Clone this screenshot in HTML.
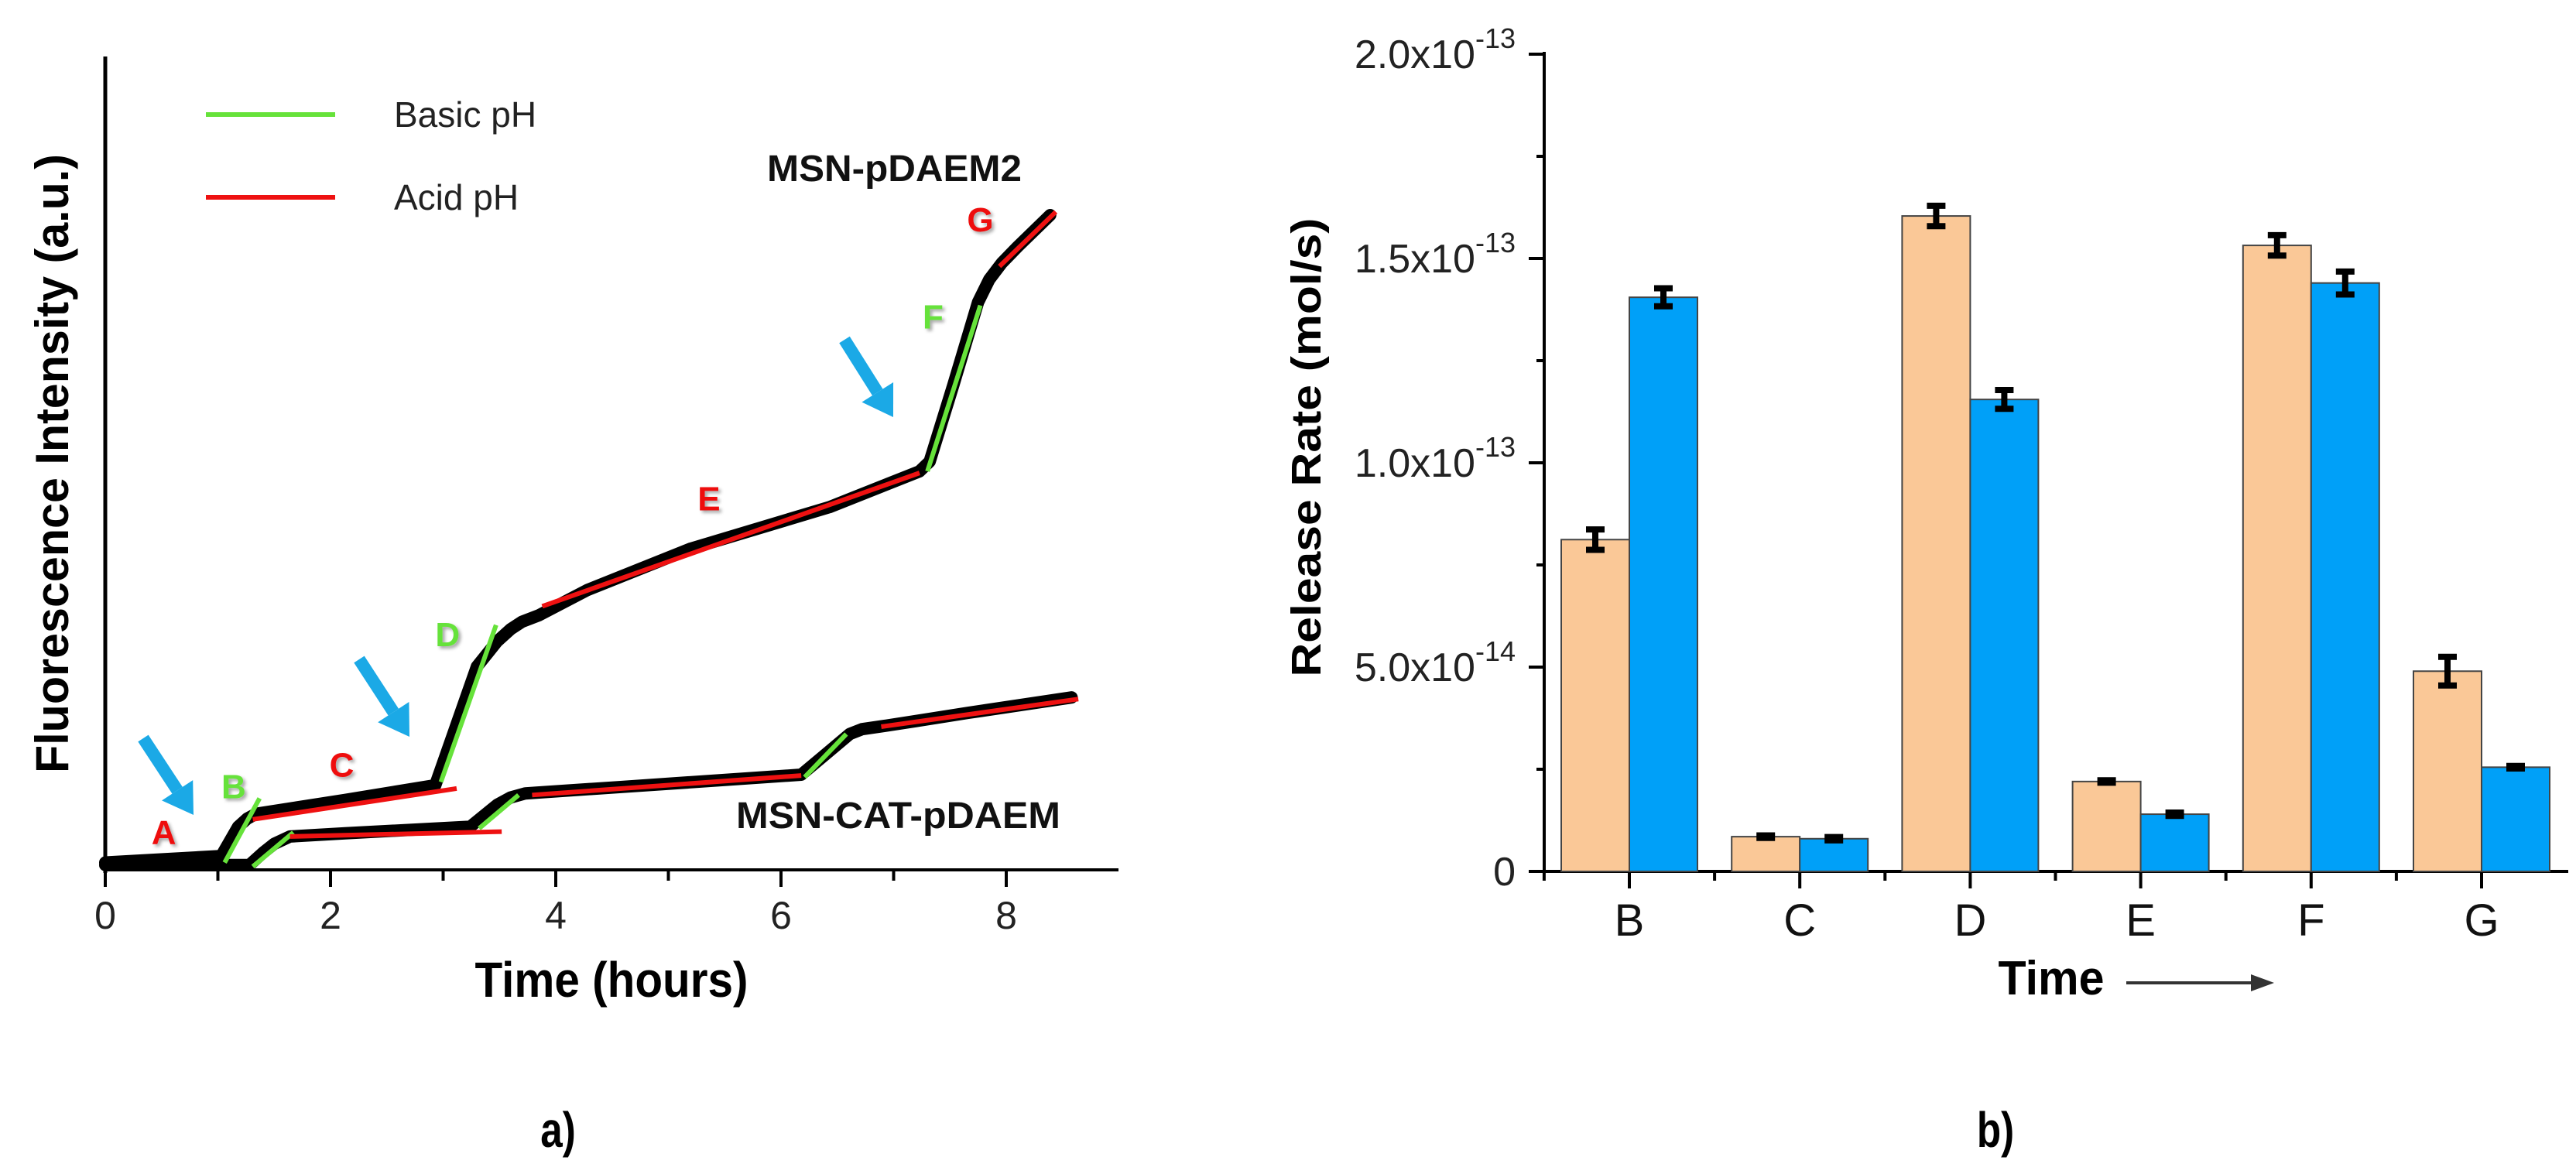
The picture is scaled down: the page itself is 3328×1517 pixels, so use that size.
<!DOCTYPE html>
<html><head><meta charset="utf-8"><style>
html,body{margin:0;padding:0;background:#fff}
svg{display:block}
text{font-family:"Liberation Sans",sans-serif}
</style></head><body>
<svg id="fig" width="3328" height="1517" viewBox="0 0 3328 1517" xmlns="http://www.w3.org/2000/svg">
<defs>
<filter id="sh" x="-20%" y="-20%" width="150%" height="150%"><feDropShadow dx="3" dy="3" stdDeviation="2" flood-color="#000" flood-opacity="0.35"/></filter>
</defs>
<g id="panelA"></g>
<g id="panelB"></g>
<text x="721" y="1482" font-size="64" font-weight="bold" text-anchor="middle" transform="translate(721 0) scale(0.8 1) translate(-721 0)">a)</text>
<text x="2578" y="1482" font-size="64" font-weight="bold" text-anchor="middle" transform="translate(2578 0) scale(0.8 1) translate(-2578 0)">b)</text>
</svg>
<script>
// ---------- Panel A data ----------
const hoursUpper = [0, 1.03, 1.18, 1.26, 1.34, 2.13, 2.93, 3.12, 3.3, 3.48, 3.6, 3.7, 3.85, 4.28, 5.2, 6.43, 7.23, 7.32, 7.53, 7.75, 7.85, 7.96, 8.1, 8.39];
const intensityUpper = [0.9, 1.7, 5.3, 6.3, 6.9, 8.6, 10.4, 17.9, 25, 28.1, 29.6, 30.5, 31.3, 34.4, 39.5, 44.6, 49, 50.2, 59.6, 69.8, 72.6, 74.6, 76.6, 80.5];
const hoursLower = [0, 1.28, 1.4, 1.5, 1.64, 2.13, 3.24, 3.48, 3.6, 3.73, 4.59, 6.18, 6.37, 6.61, 6.72, 6.92, 7.2, 7.66, 8.58];
const intensityLower = [0.6, 0.6, 2.1, 3.2, 4.1, 4.5, 5.3, 8, 8.9, 9.4, 10.2, 11.7, 13.9, 16.7, 17.3, 17.7, 18.3, 19.3, 21.2];
const fitStartH = [1.06, 1.31, 2.98, 3.88, 7.3, 7.94, 1.31, 1.64, 3.32, 3.79, 6.21, 6.89];
const fitStartI = [0.9, 6.2, 10.8, 32.4, 49, 74.2, 0.4, 4.1, 5.1, 9.2, 11.4, 17.6];
const fitEndH = [1.37, 3.12, 3.47, 7.23, 7.77, 8.44, 1.67, 3.52, 3.67, 6.18, 6.58, 8.64];
const fitEndI = [8.8, 10, 30.1, 48.8, 69.4, 80.9, 4.6, 4.7, 9.2, 11.6, 16.7, 21];
const fitKind = ['basic','acid','basic','acid','basic','acid','basic','acid','basic','acid','basic','acid'];
const xTicksA = [0, 2, 4, 6, 8];
const segLetters = ['A','B','C','D','E','F','G'];
const segLetterH = [0.52, 1.14, 2.1, 3.04, 5.36, 7.35, 7.77];
const segLetterI = [4.7, 10.3, 13, 29, 45.7, 68.1, 80];
const segLetterKind = ['acid','basic','acid','basic','acid','basic','acid'];

// ---------- Panel B data ----------
const categories = ['B','C','D','E','F','G'];
const seriesOrange = [0.812, 0.085, 1.604, 0.22, 1.532, 0.49];
const seriesBlue = [1.405, 0.08, 1.155, 0.14, 1.44, 0.255];
const errOrange = [0.025, 0.003, 0.025, 0.003, 0.025, 0.035];
const errBlue = [0.022, 0.004, 0.023, 0.004, 0.028, 0.003];
const yTicksB = [0, 0.5, 1.0, 1.5, 2.0];
const yTickMain = ['0', '5.0x10', '1.0x10', '1.5x10', '2.0x10'];
const yTickExp = ['', '-14', '-13', '-13', '-13'];

const NS = 'http://www.w3.org/2000/svg';
function mk(tag, attrs, parent, txt){
  const e = document.createElementNS(NS, tag);
  for (const k in attrs) e.setAttribute(k, attrs[k]);
  if (txt !== undefined) e.textContent = txt;
  parent.appendChild(e);
  return e;
}
const GREEN = '#66E23A', RED = '#EE1111', BLUE = '#1BA9E6';

// ===== Panel A =====
const A = document.getElementById('panelA');
const ax0 = 136, ay0 = 1124, pxPerH = 145.5, pxPerI = 10.51;
const xA = h => ax0 + h * pxPerH;
const yA = i => ay0 - i * pxPerI;

const yAxisA = mk('line', {x1: ax0, y1: 73, x2: ax0, y2: ay0 + 4, stroke: '#000', 'stroke-width': 5}, A);


const xAxisA = mk('line', {x1: ax0 - 2, y1: ay0, x2: 1445, y2: ay0, stroke: '#000', 'stroke-width': 4}, A);


for (let h = 0; h <= 8.9; h += 1) {
  const major = (h % 2 === 0);
  const t = mk('line', {x1: xA(h), y1: ay0, x2: xA(h), y2: ay0 + (major ? 22 : 14), stroke: '#000', 'stroke-width': 4}, A);
  
  
}
xTicksA.forEach(v => {
  const t = mk('text', {x: xA(v), y: 1200, 'font-size': 50, 'text-anchor': 'middle', fill: '#222'}, A, String(v));
  
  
});
const xt = mk('text', {x: 790, y: 1288, 'font-size': 64, 'font-weight': 'bold', 'text-anchor': 'middle', textLength: 353, lengthAdjust: 'spacingAndGlyphs'}, A, 'Time (hours)');


const yt = mk('text', {x: 0, y: 0, 'font-size': 60, 'font-weight': 'bold', 'text-anchor': 'middle', textLength: 800, lengthAdjust: 'spacingAndGlyphs', transform: 'translate(88 599) rotate(-90)'}, A, 'Fluorescence Intensity (a.u.)');



function curve(hs, is, name){
  const pts = hs.map((h, k) => xA(h) + ',' + yA(is[k])).join(' ');
  const p = mk('polyline', {points: pts, fill: 'none', stroke: '#000', 'stroke-width': 16, 'stroke-linejoin': 'round', 'stroke-linecap': 'round'}, A);
  
  
}
curve(hoursUpper, intensityUpper, 'curve-msn-pdaem2');
curve(hoursLower, intensityLower, 'curve-msn-cat-pdaem');
fitStartH.forEach((h, k) => {
  const l = mk('line', {x1: xA(h), y1: yA(fitStartI[k]), x2: xA(fitEndH[k]), y2: yA(fitEndI[k]), stroke: fitKind[k] === 'basic' ? GREEN : RED, 'stroke-width': 6}, A);
  
  
});
segLetters.forEach((s, k) => {
  const t = mk('text', {x: xA(segLetterH[k]), y: yA(segLetterI[k]) + 16, 'font-size': 44, 'font-weight': 'bold', 'text-anchor': 'middle', fill: segLetterKind[k] === 'basic' ? GREEN : RED, filter: 'url(#sh)'}, A, s);
  
  
});
// arrows
[[185, 954, 250, 1053], [464, 852, 529, 952], [1091, 439, 1154, 539]].forEach((a, k) => {
  const [x1, y1, x2, y2] = a;
  const dx = x2 - x1, dy = y2 - y1, L = Math.hypot(dx, dy), ux = dx / L, uy = dy / L;
  const bx = x2 - ux * 38, by = y2 - uy * 38;
  const g = mk('g', {}, A);
  
  
  mk('line', {x1: x1, y1: y1, x2: bx, y2: by, stroke: BLUE, 'stroke-width': 16}, g);
  mk('polygon', {points: `${x2},${y2} ${bx - uy * 24},${by + ux * 24} ${bx + uy * 24},${by - ux * 24}`, fill: BLUE}, g);
});
// legend
const lg = mk('g', {}, A);


const lgb = mk('line', {x1: 266, y1: 148, x2: 433, y2: 148, stroke: GREEN, 'stroke-width': 6}, lg);


const lgbt = mk('text', {x: 509, y: 164, 'font-size': 46, fill: '#222'}, lg, 'Basic pH');


const lga = mk('line', {x1: 266, y1: 255, x2: 433, y2: 255, stroke: RED, 'stroke-width': 6}, lg);


const lgat = mk('text', {x: 509, y: 271, 'font-size': 46, fill: '#222'}, lg, 'Acid pH');


const s1 = mk('text', {x: 991, y: 234, 'font-size': 48, 'font-weight': 'bold', textLength: 329, lengthAdjust: 'spacingAndGlyphs', fill: '#111'}, A, 'MSN-pDAEM2');


const s2 = mk('text', {x: 951, y: 1070, 'font-size': 48, 'font-weight': 'bold', textLength: 419, lengthAdjust: 'spacingAndGlyphs', fill: '#111'}, A, 'MSN-CAT-pDAEM');



// ===== Panel B =====
const B = document.getElementById('panelB');
const bx0 = 1995, by0 = 1126, pxPerUnit = 528, catStep = 220.2, firstCat = 2105, barW = 88;
const yB = v => by0 - v * pxPerUnit;
const xCat = k => firstCat + k * catStep;

const yAxB = mk('line', {x1: bx0, y1: 67, x2: bx0, y2: by0 + 2, stroke: '#000', 'stroke-width': 4}, B);


const xAxB = mk('line', {x1: bx0 - 12, y1: by0, x2: 3318, y2: by0, stroke: '#000', 'stroke-width': 4}, B);


for (let v = 0; v <= 2.001; v += 0.25) {
  const major = Math.abs(v * 2 - Math.round(v * 2)) < 1e-6;
  const t = mk('line', {x1: bx0 - (major ? 20 : 10), y1: yB(v), x2: bx0, y2: yB(v), stroke: '#000', 'stroke-width': 4}, B);
  
  
}
yTicksB.forEach((v, k) => {
  const t = mk('text', {x: 1958, y: yB(v) + 18, 'font-size': 52, 'text-anchor': 'end', fill: '#222'}, B);
  
  
  if (yTickExp[k]) {
    mk('tspan', {}, t, yTickMain[k]);
    mk('tspan', {'font-size': 36, dy: -26}, t, yTickExp[k]);
  } else {
    t.textContent = yTickMain[k];
  }
});
const ytB = mk('text', {x: 0, y: 0, 'font-size': 54, 'font-weight': 'bold', 'text-anchor': 'middle', textLength: 593, lengthAdjust: 'spacingAndGlyphs', transform: 'translate(1706 578) rotate(-90)'}, B, 'Release Rate (mol/s)');


categories.forEach((c, k) => {
  const cx = xCat(k);
  const t1 = mk('line', {x1: cx, y1: by0, x2: cx, y2: by0 + 22, stroke: '#000', 'stroke-width': 4}, B);
  
  
  const t2 = mk('line', {x1: cx - catStep / 2, y1: by0, x2: cx - catStep / 2, y2: by0 + 12, stroke: '#000', 'stroke-width': 4}, B);
  
  
  const lab = mk('text', {x: cx, y: 1209, 'font-size': 58, 'text-anchor': 'middle', fill: '#111'}, B, c);
  
  
  [[seriesOrange, errOrange, '#FAC897', cx - barW, 'orange'], [seriesBlue, errBlue, '#00A0F8', cx, 'blue']].forEach(sp => {
    const [vals, errs, col, x, nm] = sp;
    const v = vals[k], e = errs[k];
    const r = mk('rect', {x: x, y: yB(v), width: barW, height: by0 - yB(v), fill: col, stroke: '#444', 'stroke-width': 2}, B);
    
    
    const m = x + barW / 2;
    const eb = mk('path', {d: `M${m},${yB(v + e)} V${yB(v - e)} M${m - 12},${yB(v + e)} H${m + 12} M${m - 12},${yB(v - e)} H${m + 12}`, stroke: '#000', 'stroke-width': 8, fill: 'none'}, B);
    
    
  });
});
const xtB = mk('text', {x: 2650, y: 1285, 'font-size': 62, 'font-weight': 'bold', 'text-anchor': 'middle', textLength: 137, lengthAdjust: 'spacingAndGlyphs'}, B, 'Time');


const ta = mk('g', {}, B);


mk('line', {x1: 2747, y1: 1270, x2: 2915, y2: 1270, stroke: '#333', 'stroke-width': 4}, ta);
mk('polygon', {points: '2938,1270 2908,1259 2908,1281', fill: '#333'}, ta);
</script>
</body></html>
